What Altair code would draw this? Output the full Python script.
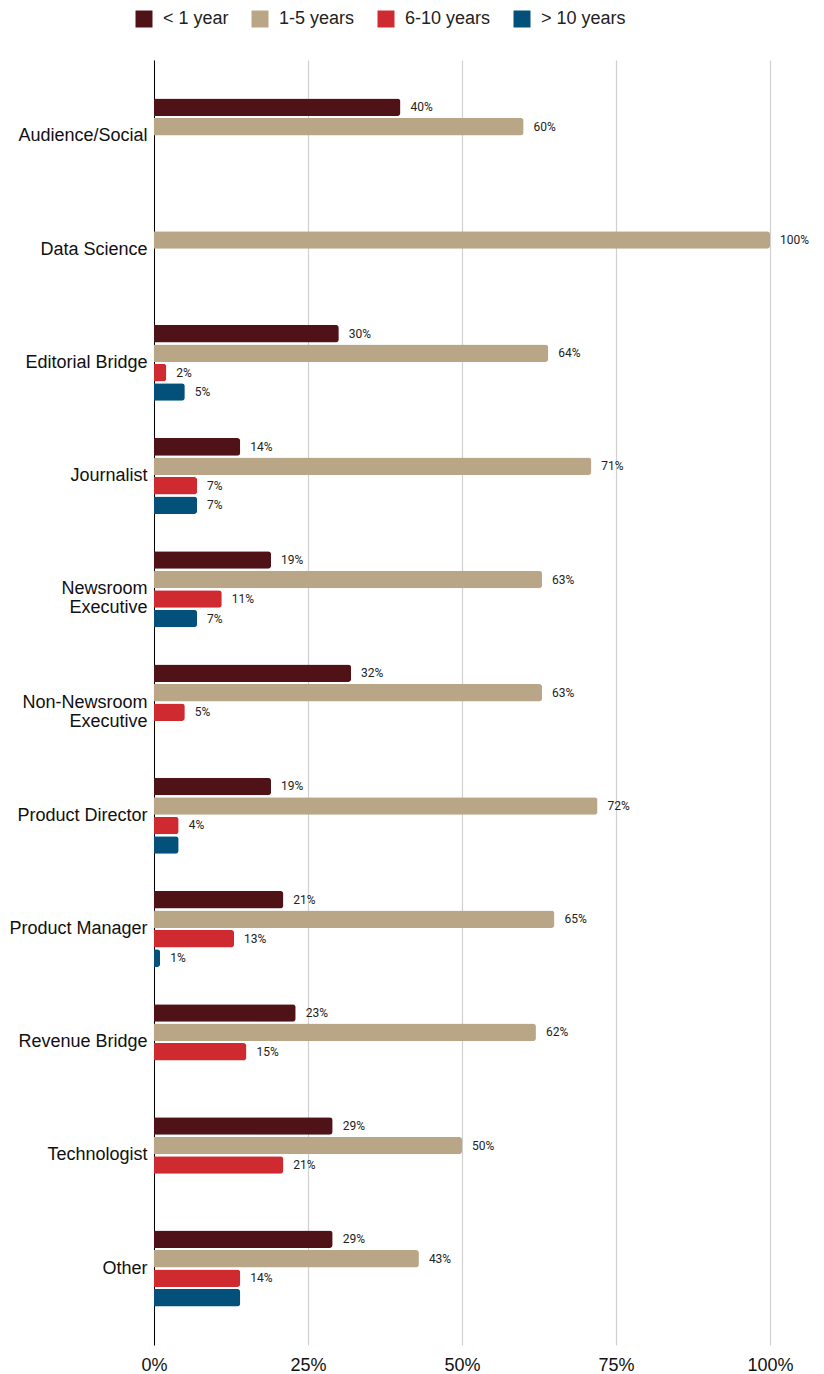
import altair as alt
import pandas as pd

categories = ["Audience/Social", "Data Science", "Editorial Bridge", "Journalist",
              "Newsroom Executive", "Non-Newsroom Executive", "Product Director",
              "Product Manager", "Revenue Bridge", "Technologist", "Other"]
series = ["< 1 year", "1-5 years", "6-10 years", "> 10 years"]
colors = ["#4f1216", "#b8a686", "#cf2a2f", "#03507a"]

lt1 = [40, None, 30, 14, 19, 32, 19, 21, 23, 29, 29]
y1_5 = [60, 100, 64, 71, 63, 63, 72, 65, 62, 50, 43]
y6_10 = [None, None, 2, 7, 11, 5, 4, 13, 15, 21, 14]
gt10 = [None, None, 5, 7, 7, None, 4, 1, None, None, 14]
# which bars carry a value label (some are unlabeled in the original)
gt10_labeled = [False, False, True, True, True, False, False, True, False, False, False]

rows = []
for i, c in enumerate(categories):
    for s, vals in zip(series, [lt1, y1_5, y6_10, gt10]):
        v = vals[i]
        if v is None:
            continue
        show = True
        if s == "> 10 years":
            show = gt10_labeled[i]
        rows.append({"cat": c, "series": s, "value": v / 100.0,
                     "label": f"{v}%" if show else ""})
df = pd.DataFrame(rows)

y_enc = alt.Y("cat:N", sort=categories,
              scale=alt.Scale(paddingInner=0.329, paddingOuter=0.34),
              axis=alt.Axis(title=None, ticks=False, domain=True, domainColor="#000000",
                            domainWidth=1, labelFontSize=18, labelColor="#111111",
                            labelFont="Liberation Sans", labelPadding=7, labelLineHeight=19,
                            labelExpr="datum.label == 'Newsroom Executive' ? ['Newsroom', 'Executive'] : datum.label == 'Non-Newsroom Executive' ? ['Non-Newsroom', 'Executive'] : datum.label",
                            grid=False))
yoff = alt.YOffset("series:N", sort=series,
                   scale=alt.Scale(domain=series, paddingInner=0.1, paddingOuter=0))
x_enc = alt.X("value:Q", scale=alt.Scale(domain=[0, 1], nice=False),
              axis=alt.Axis(title=None, format=".0%", values=[0, 0.25, 0.5, 0.75, 1],
                            domain=False, ticks=False, grid=True, gridColor="#d0d0d0",
                            gridWidth=1.2, labelFontSize=18, labelColor="#111111",
                            labelFont="Liberation Sans", labelPadding=11, labelFlush=False))

bars = alt.Chart(df).mark_bar(cornerRadiusEnd=3).encode(
    y=y_enc, yOffset=yoff, x=x_enc,
    color=alt.Color("series:N", sort=series,
                    scale=alt.Scale(domain=series, range=colors),
                    legend=alt.Legend(title=None, orient="none", direction="horizontal",
                                      legendX=-19, legendY=-50, symbolType="square",
                                      symbolSize=289, symbolStrokeWidth=0,
                                      symbolOpacity=1, labelFontSize=18,
                                      labelFont="Liberation Sans", labelColor="#222222",
                                      labelOffset=10, columnPadding=22)),
)

labels = alt.Chart(df).transform_filter("datum.label != ''").mark_text(
    align="left", baseline="middle", dx=10, fontSize=12, font="Roboto", color="#222222"
).encode(y=alt.Y("cat:N", sort=categories), yOffset=yoff, x="value:Q", text="label:N")

chart = (bars + labels).properties(
    width=616, height=1285,
    autosize=alt.AutoSizeParams(type="none"),
    padding={"left": 146, "top": 52, "right": 46, "bottom": 40},
).configure_view(stroke=None)

chart.save("out.html", embed_options={"renderer": "svg", "actions": False})
